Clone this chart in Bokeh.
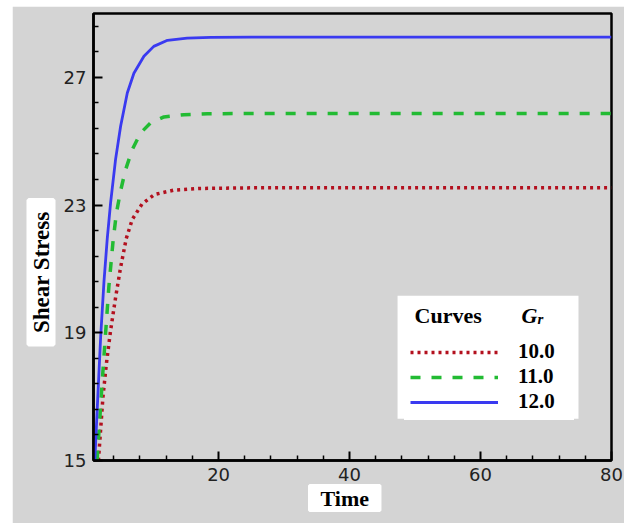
import numpy as np
from bokeh.plotting import figure
from bokeh.models import (Range1d, FixedTicker, Legend, LegendItem, BoxAnnotation, Title)
from bokeh.core.properties import value
from bokeh.embed import file_html
from bokeh.resources import INLINE

# ---- data ----
gr_labels = ["10.0", "11.0", "12.0"]

t_red = [1.65, 1.98, 2.34, 2.85, 3.5, 4.27, 5.04, 5.9, 6.82, 8.3, 10.2, 13.2, 17.25, 25, 80]
s_red = [15.0, 15.94, 16.98, 18.0, 19.06, 20.1, 21.05, 21.95, 22.55, 23.03, 23.33, 23.47, 23.52, 23.54, 23.54]

t_green = [1.45, 1.73, 2.24, 2.75, 3.25, 3.9, 4.4, 5.04, 5.8, 6.82, 8.1, 9.6, 11.65, 14.7, 18.3, 25, 80]
s_green = [15.0, 15.9, 17.5, 19.0, 20.45, 21.9, 22.75, 23.45, 24.11, 24.74, 25.26, 25.57, 25.76, 25.83, 25.86, 25.87, 25.87]

t_blue = [1.1, 1.35, 1.65, 2.0, 2.5, 3.0, 3.51, 4.27, 5.04, 6.06, 7.07, 8.6, 10.1, 12.2, 15.2, 18.8, 25, 80]
s_blue = [15.0, 16.1, 17.4, 18.9, 20.6, 21.95, 23.07, 24.43, 25.47, 26.51, 27.13, 27.66, 27.97, 28.16, 28.23, 28.25, 28.26, 28.26]

x_major = [20, 40, 60, 80]
x_minor = [4, 8, 12, 16, 24, 28, 32, 36, 44, 48, 52, 56, 64, 68, 72, 76]
y_major = [15, 19, 23, 27]
y_minor = [15.8, 16.6, 17.4, 18.2, 19.8, 20.6, 21.4, 22.2, 23.8, 24.6, 25.4, 26.2, 27.8, 28.6]

GRAY = "#d4d4d4"
SERIF = "Liberation Serif"
NB = "\u00a0"

p = figure(width=612, height=517, output_backend="svg", toolbar_location=None,
           x_range=Range1d(0.9, 80), y_range=Range1d(15, 29),
           background_fill_color=GRAY, border_fill_color=GRAY,
           min_border_left=81, min_border_right=13, min_border_top=7, min_border_bottom=63,
           margin=(6, 10, 0, 12))
p.grid.visible = False
p.outline_line_color = "black"
p.outline_line_width = 2.5
p.outline_line_alpha = 1

for ax in (p.xaxis[0], p.yaxis[0]):
    ax.axis_line_color = "black"
    ax.axis_line_width = 2.5
    ax.major_tick_line_color = "black"
    ax.minor_tick_line_color = "black"
    ax.major_tick_line_width = 2
    ax.minor_tick_line_width = 1.5
    ax.major_tick_in = 9
    ax.major_tick_out = 0
    ax.minor_tick_in = 5
    ax.minor_tick_out = 0
    ax.major_label_text_font = "DejaVu Sans"
    ax.major_label_text_font_size = "18px"
    ax.major_label_text_color = "#222222"
    ax.major_label_standoff = 7

p.xaxis[0].ticker = FixedTicker(ticks=x_major, minor_ticks=x_minor)
p.yaxis[0].ticker = FixedTicker(ticks=y_major, minor_ticks=y_minor)

# axis titles as side-panel titles in white boxes
t_y = Title(text=NB * 2 + "Shear Stress" + NB * 2, align="left", offset=116, standoff=14,
            text_font=SERIF, text_font_style="bold", text_font_size="23px",
            text_color="black", background_fill_color="white",
            border_line_color="white", border_line_width=4)
t_x = Title(text=NB * 2 + "Time" + NB * 2, align="left", offset=216, standoff=4,
            vertical_align="top",
            text_font=SERIF, text_font_style="bold", text_font_size="22px",
            text_color="black", background_fill_color="white",
            border_line_color="white", border_line_width=3)
p.add_layout(t_y, "left")
p.add_layout(t_x, "below")

r_red = p.line(t_red, s_red, line_color="#b3101e", line_width=3.5, line_dash="3 4")
r_green = p.line(t_green, s_green, line_color="#22bb33", line_width=3.5, line_dash="10 11")
r_blue = p.line(t_blue, s_blue, line_color="#3a3af0", line_width=2.8)

# white legend panel and its header ("Curves", G_r)
p.add_layout(BoxAnnotation(left=47.33, right=74.96, bottom=16.31, top=20.16,
                           fill_color="white", fill_alpha=1, line_color=None,
                           level="underlay", editable=False))
p.text(x=[49.92], y=[19.53], text=["Curves"], text_font=value(SERIF), text_font_style="bold",
       text_font_size="22px", text_baseline="middle", text_align="left", text_color="black")
p.text(x=[66.26], y=[19.55], text=["G"], text_font=value(SERIF), text_font_style="bold italic",
       text_font_size="22px", text_baseline="middle", text_align="left", text_color="black")
p.text(x=[68.7], y=[19.42], text=["r"], text_font=value(SERIF), text_font_style="bold italic",
       text_font_size="15px", text_baseline="middle", text_align="left", text_color="black")

legend = Legend(items=[LegendItem(label=gr_labels[0], renderers=[r_red]),
                       LegendItem(label=gr_labels[1], renderers=[r_green]),
                       LegendItem(label=gr_labels[2], renderers=[r_blue])],
                location=(311, 40),
                label_text_font=SERIF, label_text_font_style="bold", label_text_font_size="21px",
                label_text_color="black", label_standoff=20, label_width=50, label_height=20,
                glyph_width=88, glyph_height=20, spacing=0, padding=0,
                background_fill_color="white", background_fill_alpha=1,
                border_line_color="white", border_line_width=6, border_line_alpha=1,
                margin=0)
p.add_layout(legend)

open("out.html", "w").write(file_html(p, INLINE))
